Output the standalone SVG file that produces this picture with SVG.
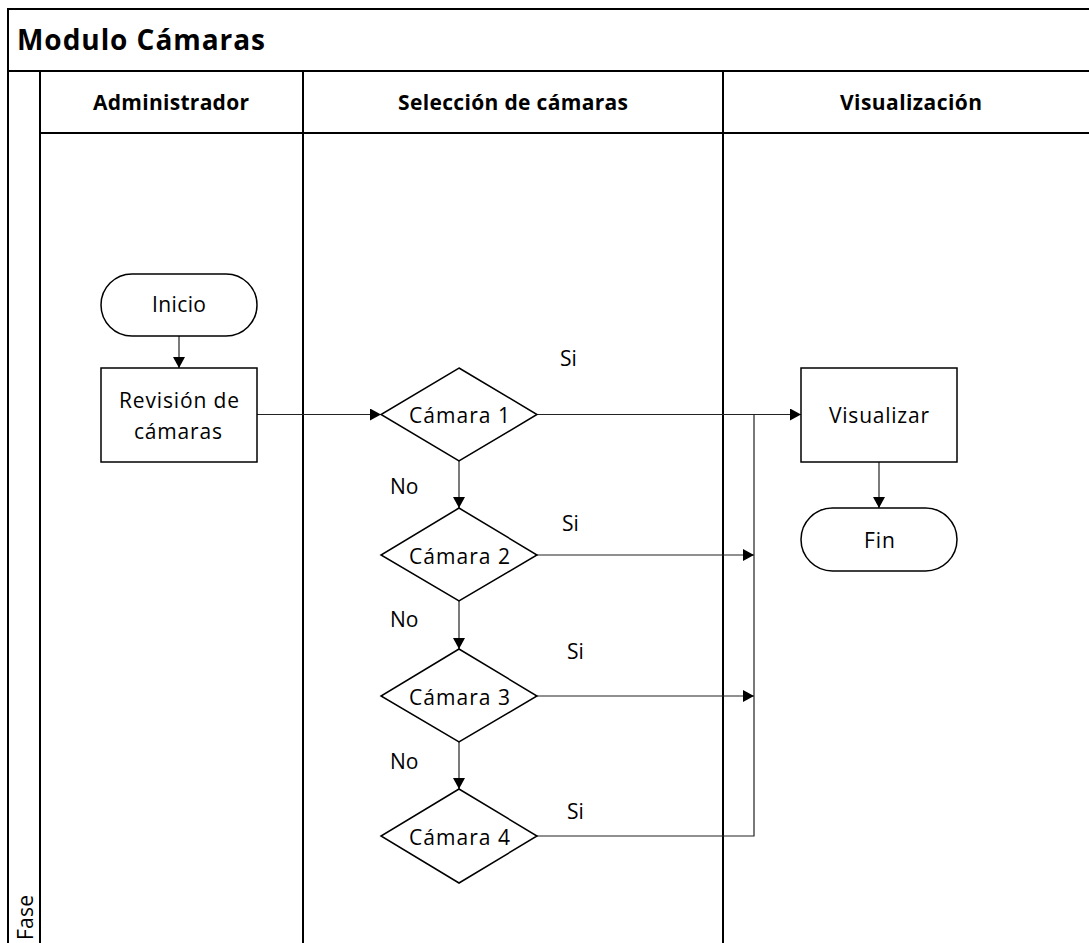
<svg xmlns="http://www.w3.org/2000/svg" width="1089" height="943" viewBox="0 0 1089 943">
  <style>
    .lane { fill: none; stroke: #000; stroke-width: 2; }
    .shape { fill: #fff; stroke: #000; stroke-width: 1.5; }
    .conn { fill: none; stroke: #222; stroke-width: 1.2; }
    .t { font-family: "Open Sans", "Liberation Sans", sans-serif; font-size: 21px; fill: #000; }
    .c { text-anchor: middle; }
    .b { font-weight: bold; }
    .title { font-size: 28px; }
  </style>
  <defs>
    <marker id="arrow" markerUnits="userSpaceOnUse" markerWidth="12" markerHeight="12" refX="11" refY="6" orient="auto">
      <path d="M0,0 L11,6 L0,12 z" fill="#000"/>
    </marker>
  </defs>

  <rect width="1089" height="943" fill="#fff"/>

  <!-- pool and lanes -->
  <g id="pool">
    <rect class="lane" x="8" y="9" width="1091" height="945"/>
    <line class="lane" x1="8" y1="71" x2="1099" y2="71"/>
    <line class="lane" x1="40" y1="133" x2="1099" y2="133"/>
    <line class="lane" x1="40" y1="71" x2="40" y2="954"/>
    <line class="lane" x1="303" y1="71" x2="303" y2="954"/>
    <line class="lane" x1="723" y1="71" x2="723" y2="954"/>
    <text class="t b title" x="17" y="50" textLength="248">Modulo Cámaras</text>
    <text class="t b c" x="171" y="110" textLength="156">Administrador</text>
    <text class="t b c" x="513" y="110" textLength="230">Selección de cámaras</text>
    <text class="t b c" x="911" y="110" textLength="142">Visualización</text>
    <text class="t" transform="translate(33,940) rotate(-90)" textLength="45">Fase</text>
  </g>

  <!-- connectors -->
  <g id="connectors">
    <line class="conn" x1="179" y1="336" x2="179" y2="368" marker-end="url(#arrow)"/>
    <line class="conn" x1="257" y1="414.5" x2="381" y2="414.5" marker-end="url(#arrow)"/>
    <line class="conn" x1="537" y1="414.5" x2="801" y2="414.5" marker-end="url(#arrow)"/>
    <line class="conn" x1="459" y1="461" x2="459" y2="508" marker-end="url(#arrow)"/>
    <line class="conn" x1="459" y1="601" x2="459" y2="649" marker-end="url(#arrow)"/>
    <line class="conn" x1="459" y1="742" x2="459" y2="789" marker-end="url(#arrow)"/>
    <line class="conn" x1="537" y1="555" x2="754" y2="555" marker-end="url(#arrow)"/>
    <line class="conn" x1="537" y1="696" x2="754" y2="696" marker-end="url(#arrow)"/>
    <polyline class="conn" points="537,836 754,836 754,414.5"/>
    <line class="conn" x1="879" y1="462" x2="879" y2="508" marker-end="url(#arrow)"/>
    <text class="t" x="560" y="366">Si</text>
    <text class="t" x="562" y="531">Si</text>
    <text class="t" x="567" y="659">Si</text>
    <text class="t" x="567" y="819">Si</text>
    <text class="t" x="390" y="494">No</text>
    <text class="t" x="390" y="627">No</text>
    <text class="t" x="390" y="769">No</text>
  </g>

  <!-- nodes -->
  <g id="inicio">
    <rect class="shape" x="101" y="274" width="156" height="62" rx="31" ry="31"/>
    <text class="t c" x="179" y="312" textLength="54">Inicio</text>
  </g>
  <g id="revision">
    <rect class="shape" x="101" y="368" width="156" height="94"/>
    <text class="t c" x="179" y="408" textLength="120">Revisión de</text>
    <text class="t c" x="178" y="439" textLength="88">cámaras</text>
  </g>
  <g id="camara1">
    <polygon class="shape" points="459,368 537,414.5 459,461 381,414.5"/>
    <text class="t c" x="459.5" y="423" textLength="101">Cámara 1</text>
  </g>
  <g id="camara2">
    <polygon class="shape" points="459,508 537,555 459,601 381,555"/>
    <text class="t c" x="459.5" y="564" textLength="101">Cámara 2</text>
  </g>
  <g id="camara3">
    <polygon class="shape" points="459,649 537,696 459,742 381,696"/>
    <text class="t c" x="459.5" y="705" textLength="101">Cámara 3</text>
  </g>
  <g id="camara4">
    <polygon class="shape" points="459,789 537,836 459,883 381,836"/>
    <text class="t c" x="459.5" y="845" textLength="101">Cámara 4</text>
  </g>
  <g id="visualizar">
    <rect class="shape" x="801" y="368" width="156" height="94"/>
    <text class="t c" x="879" y="423" textLength="100">Visualizar</text>
  </g>
  <g id="fin">
    <rect class="shape" x="801" y="508" width="156" height="63" rx="31.5" ry="31.5"/>
    <text class="t c" x="879.5" y="548" textLength="31">Fin</text>
  </g>
</svg>
